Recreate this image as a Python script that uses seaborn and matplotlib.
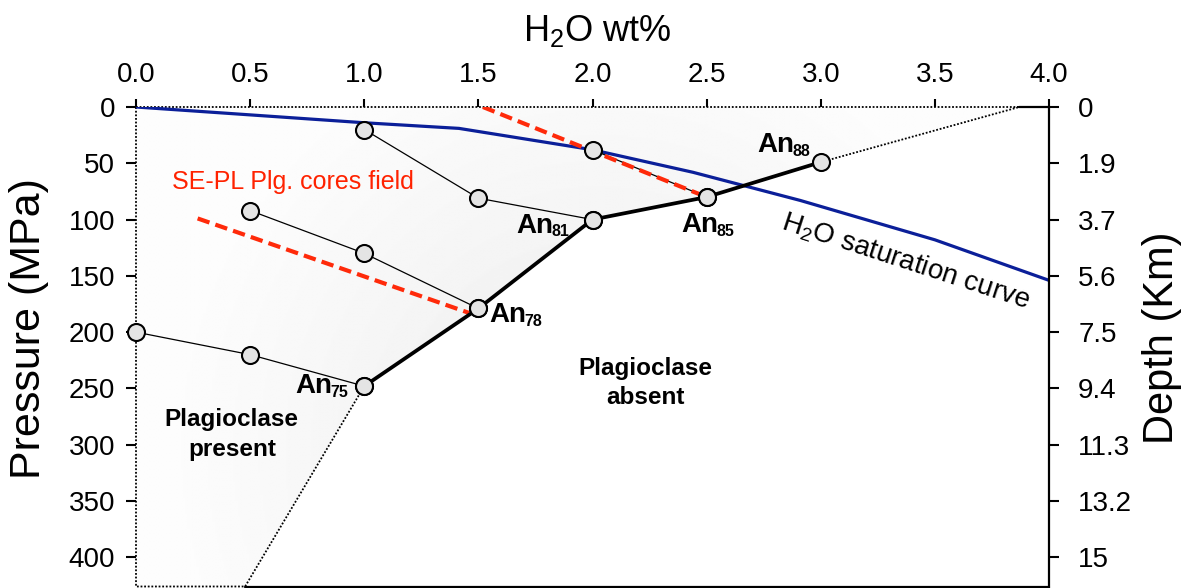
import numpy as np
import pandas as pd
import matplotlib
matplotlib.use("Agg")
import matplotlib.pyplot as plt
import seaborn as sns
from matplotlib.patches import Polygon

sns.set_style("white")
plt.rcParams['font.family'] = ['Liberation Sans', 'DejaVu Sans']
plt.rcParams['mathtext.fontset'] = 'custom'
plt.rcParams['mathtext.rm'] = 'Liberation Sans'
plt.rcParams['mathtext.bf'] = 'Liberation Sans:bold'
plt.rcParams['mathtext.it'] = 'Liberation Sans:italic'
for k in ['text.color', 'axes.labelcolor', 'xtick.color', 'ytick.color']:
    plt.rcParams[k] = 'black'

# ---------------- data ----------------
x_ticks = [0.0, 0.5, 1.0, 1.5, 2.0, 2.5, 3.0, 3.5, 4.0]
p_ticks = [0, 50, 100, 150, 200, 250, 300, 350, 400]
depth_labels = ['0', '1.9', '3.7', '5.6', '7.5', '9.4', '11.3', '13.2', '15']

# plagioclase-in boundary (An contents)
an_x = [1.0, 1.5, 2.0, 2.5, 3.0]
an_p = [248, 179, 100, 80, 49]
an_labels = ['75', '78', '81', '85', '88']

# thin experimental paths
path1_x = [1.0, 1.5, 2.0]
path1_p = [20, 81, 100]
path2_x = [0.5, 1.0, 1.5]
path2_p = [92, 130, 179]
path3_x = [0.0, 0.5, 1.0]
path3_p = [200, 220, 248]
path4_x = [2.0, 2.5]
path4_p = [38, 80]

# H2O saturation curve
sat_x = [0.0, 1.0, 1.415, 2.0, 2.44, 2.91, 3.5, 4.0]
sat_p = [0, 14, 19, 38, 58, 83, 118, 154]

# SE-PL plagioclase cores field limits
red1_x = [1.52, 2.5]
red1_p = [0, 80]
red2_x = [0.27, 1.46]
red2_p = [99, 183]

# plagioclase-present field polygon
field_x = [0.0, 3.87, 3.0, 2.5, 2.0, 1.5, 1.0, 0.478, 0.0]
field_p = [0, 0, 49, 80, 100, 179, 248, 426, 426]

# ---------------- figure ----------------
W, H = 1189, 588
fig = plt.figure(figsize=(W / 100, H / 100), dpi=100)
ax = fig.add_axes([136 / W, 1 - 586.5 / H, (1049 - 136) / W, (586.5 - 107) / H])
ax.set_xlim(0, 4.0)
ax.set_ylim(426, 0)

# gradient fill of the field
poly = Polygon(np.column_stack([field_x, field_p]), closed=True,
               facecolor='none', edgecolor='none')
ax.add_patch(poly)
gx = np.linspace(0, 4, 400)
gy = np.linspace(0, 426, 300)
GX, GY = np.meshgrid(gx, gy)
px = GX * 228.25
py = GY * 1.1256
cx, cy = (600 - 136), (450 - 107)
r = np.sqrt((px - cx) ** 2 + (py - cy) ** 2)
val = np.clip(0.925 + 0.065 * (r / 430), 0, 0.99)
img = ax.imshow(val, extent=(0, 4, 426, 0), cmap='gray', vmin=0, vmax=1,
                aspect='auto', origin='upper', zorder=0.5, interpolation='bilinear')
img.set_clip_path(poly)

# dotted boundary of field
dot = (0, (1, 1))
ax.plot(field_x[:3], field_p[:3], color='black', lw=1.3, ls=dot, zorder=2, clip_on=False)
ax.plot(field_x[6:] + [field_x[0]], field_p[6:] + [field_p[0]], color='black',
        lw=1.3, ls=dot, zorder=2, clip_on=False)
# solid remainder of the frame
ax.plot([field_x[1], 4.0], [0, 0], color='black', lw=1.6, clip_on=False, zorder=2)
ax.plot([field_x[7], 4.0], [field_p[7], field_p[7]], color='black', lw=1.6,
        clip_on=False, zorder=2)

# saturation curve
sns.lineplot(x=sat_x, y=sat_p, ax=ax, color='#0b1f99', lw=2.3, sort=False,
             estimator=None, zorder=2.5)

# thin paths
for xs, ps in [(path1_x, path1_p), (path2_x, path2_p), (path3_x, path3_p), (path4_x, path4_p)]:
    sns.lineplot(x=xs, y=ps, ax=ax, color='black', lw=0.9, sort=False,
                 estimator=None, zorder=3)

# red dashed lines
for xs, ps in [(red1_x, red1_p), (red2_x, red2_p)]:
    sns.lineplot(x=xs, y=ps, ax=ax, color='#ff2a0a', lw=3.0, sort=False,
                 estimator=None, zorder=4, linestyle=(0, (3, 1.5)))

# thick boundary
sns.lineplot(x=an_x, y=an_p, ax=ax, color='black', lw=2.7, sort=False,
             estimator=None, zorder=5)

# markers
all_x = path1_x + path2_x + path3_x + path4_x + an_x
all_p = path1_p + path2_p + path3_p + path4_p + an_p
sns.scatterplot(x=all_x, y=all_p, ax=ax, s=150, color='#e4e4e4', edgecolor='black',
                linewidth=1.5, zorder=6, clip_on=False)

# An labels: (dx px, dy px down, ha) for the "An" part, baseline aligned
pt = 0.72
offsets = {'75': (-32, 7, 'right'),
           '78': (11, 14, 'left'),
           '81': (-39, 13, 'right'),
           '85': (-7, 35, 'center'),
           '88': (-26, -10, 'right')}
for x, p, lab in zip(an_x, an_p, an_labels):
    dx, dy, ha = offsets[lab]
    t = ax.annotate('An', (x, p), xytext=(dx * pt, -dy * pt),
                    textcoords='offset points', ha=ha, va='baseline',
                    fontsize=20, fontweight='bold', zorder=7)
    ax.annotate(lab, xy=(1.0, 0.0), xycoords=t, xytext=(-1.5, 1.5),
                textcoords='offset points', ha='left', va='baseline',
                fontsize=11.5, fontweight='bold', zorder=7)

# annotations
ax.text(0.158, 67, 'SE-PL Plg. cores field', color='#ff2200', fontsize=18,
        ha='left', va='center')
ax.text(0.42, 291, 'Plagioclase\npresent', fontsize=17.5, fontweight='bold',
        ha='center', va='center', linespacing=1.35)
ax.text(2.23, 245, 'Plagioclase\nabsent', fontsize=17.5, fontweight='bold',
        ha='center', va='center', linespacing=1.35)
ax.text(3.37, 137, r'H$_2$O saturation curve', fontsize=20, rotation=-18,
        rotation_mode='anchor', ha='center', va='center')

# axes styling
for s in ['top', 'left', 'bottom', 'right']:
    ax.spines[s].set_visible(False)
ax.xaxis.tick_top()
ax.set_xticks(x_ticks)
ax.set_xticklabels(['%.1f' % v for v in x_ticks])
ax.set_yticks(p_ticks)
ax.set_yticklabels([str(v) for v in p_ticks])
ax.tick_params(axis='x', top=True, bottom=False, direction='out', length=6,
               width=1.5, labelsize=20, pad=8)
ax.tick_params(axis='y', left=True, right=False, direction='out', length=7,
               width=1.5, labelsize=20, pad=8)
ax.set_xlabel('')
ax.set_ylabel('')

ax2 = ax.twinx()
ax2.set_ylim(426, 0)
ax2.set_yticks(p_ticks)
ax2.set_yticklabels(depth_labels)
for s in ['top', 'left', 'bottom']:
    ax2.spines[s].set_visible(False)
ax2.spines['right'].set_linewidth(1.6)
ax2.spines['right'].set_color('black')
ax2.tick_params(axis='y', right=True, direction='out', length=7, width=1.5,
                labelsize=20, pad=14)

fig.text(597 / W, 1 - 31 / H, r'H$_2$O wt%', fontsize=26, ha='center', va='center')
fig.text(29 / W, 1 - 329 / H, 'Pressure (MPa)', fontsize=31, rotation=90,
         ha='center', va='center')
fig.text(1162 / W, 1 - 338 / H, 'Depth (Km)', fontsize=30, rotation=90,
         ha='center', va='center')

fig.savefig('out.png', dpi=100)
